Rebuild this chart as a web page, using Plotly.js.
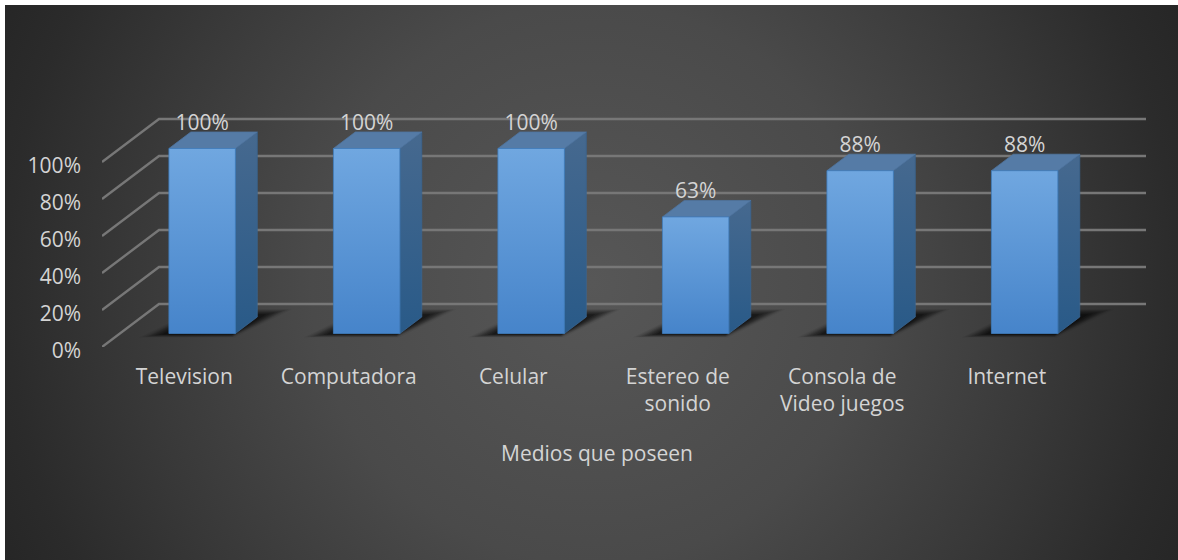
<!DOCTYPE html>
<html>
<head>
<meta charset="utf-8">
<script src="https://cdn.plot.ly/plotly-3.0.1.min.js"></script>
<style>
html,body{margin:0;padding:0;background:#fff;}
#chart{width:1178px;height:560px;
background:radial-gradient(circle 651px at 50% 50%, #575757 0%, #505050 23%, #4a4a4a 43%, #383838 71%, #2b2b2b 90%, #262626 100%) 5px 5px / 1173px 555px no-repeat, #fff;}
</style>
</head>
<body>
<div id="chart"></div>
<script>
// Data
var categories = ["Television", "Computadora", "Celular", "Estereo de<br>sonido", "Consola de<br>Video juegos", "Internet"];
var values = [100, 100, 100, 63, 88, 88];
var yTicks = [0, 20, 40, 60, 80, 100];
var axisTitle = "Medios que poseen";

// Oblique projection of the 3-D chart onto the axes
var DX = 57 / 164.5;        // x-axis units from front to back of floor
var DY = 43 / 1.85;         // y-axis units from front to back of floor
var HALF = 0.202;           // half bar width
var D0 = 0.314, D1 = 0.698; // bar front & back depth
var LABEL_DROP = 1.6;       // data labels sit slightly into the bar top
var FONT = {family:"'Open Sans', sans-serif", size:21, color:"#d4d4d4"};
function px(x, d){ return x + DX * d; }
function py(v, d){ return v + DY * d; }

var traces = [];

// Gridlines (walls)
var gx = [], gy = [];
yTicks.forEach(function(t){
  gx.push(px(-0.5,0), px(-0.5,1), px(5.5,1), null);
  gy.push(py(t,0), py(t,1), py(t,1), null);
});
traces.push({type:"scatter", mode:"lines", x:gx, y:gy, hoverinfo:"skip", showlegend:false,
  line:{color:"#777777", width:2.4}});

// Soft shadows: nested floor polygons
var shadowLayers = [
  {h:0.35,  a:0.22, b:0.88, c:0.12, o:0.05},
  {h:0.335, a:0.23, b:0.87, c:0.12, o:0.07},
  {h:0.32,  a:0.24, b:0.86, c:0.11, o:0.09},
  {h:0.305, a:0.25, b:0.84, c:0.10, o:0.11},
  {h:0.29,  a:0.26, b:0.82, c:0.09, o:0.13},
  {h:0.275, a:0.27, b:0.80, c:0.08, o:0.15},
  {h:0.255, a:0.28, b:0.78, c:0.06, o:0.18},
  {h:0.235, a:0.29, b:0.76, c:0.04, o:0.22}
];
shadowLayers.forEach(function(s){
  var sx = [], sy = [];
  values.forEach(function(v,i){
    sx.push(px(i-s.h,s.a), px(i+s.h-s.c,s.a), px(i+s.h,s.b), px(i-s.h+s.c,s.b), px(i-s.h,s.a), null);
    sy.push(py(0,s.a), py(0,s.a), py(0,s.b), py(0,s.b), py(0,s.a), null);
  });
  traces.push({type:"scatter", mode:"lines", x:sx, y:sy, fill:"toself", hoverinfo:"skip", showlegend:false,
    line:{width:0}, fillcolor:"rgba(0,0,0,"+s.o+")"});
});

// Bars
function face(xs, ys, colorscale, lineColor){
  var t = {type:"scatter", mode:"lines", x:xs, y:ys, fill:"toself", hoverinfo:"skip", showlegend:false,
    line:{width:0.8, color:lineColor}};
  if (colorscale) t.fillgradient = {type:"vertical", colorscale:colorscale};
  return t;
}
var frontScale = [[0,"#4684ca"],[1,"#70a7e0"]];
var sideScale  = [[0,"#295a88"],[1,"#46698f"]];
values.forEach(function(v,i){
  var l = i-HALF, r = i+HALF;
  // right side
  traces.push(face(
    [px(r,D0),px(r,D1),px(r,D1),px(r,D0),px(r,D0)],
    [py(0,D0),py(0,D1),py(v,D1),py(v,D0),py(0,D0)],
    sideScale, "#3a6591"));
  // top
  var top = face(
    [px(l,D0),px(r,D0),px(r,D1),px(l,D1),px(l,D0)],
    [py(v,D0),py(v,D0),py(v,D1),py(v,D1),py(v,D0)],
    null, "#4f75a0");
  top.fillcolor = "#557ba6";
  traces.push(top);
  // front
  traces.push(face(
    [px(l,D0),px(r,D0),px(r,D0),px(l,D0),px(l,D0)],
    [py(0,D0),py(0,D0),py(v,D0),py(v,D0),py(0,D0)],
    frontScale, "#3f7cbd"));
});

// Data labels
traces.push({type:"scatter", mode:"text",
  x:values.map(function(v,i){return px(i,D0);}),
  y:values.map(function(v){return py(v,D1) - LABEL_DROP;}),
  text:values.map(function(v){return v+"%";}),
  textposition:"top center", cliponaxis:false, hoverinfo:"skip", showlegend:false,
  textfont:FONT});

var layout = {
  width:1178, height:560,
  margin:{l:102, r:32, t:100, b:213, pad:0},
  paper_bgcolor:"rgba(0,0,0,0)", plot_bgcolor:"rgba(0,0,0,0)",
  showlegend:false,
  font:FONT,
  xaxis:{range:[-0.5, 5.5+DX], tickmode:"array", tickvals:categories.map(function(c,i){return i;}), ticktext:categories,
    showgrid:false, zeroline:false, showline:false, ticks:"", ticklabelstandoff:15, tickfont:FONT},
  yaxis:{range:[0, 247/1.85], tickmode:"array", tickvals:yTicks, ticktext:yTicks.map(function(t){return t+"%";}),
    showgrid:false, zeroline:false, showline:false, ticks:"", ticklabelstandoff:20, ticklabelshift:4, tickfont:FONT},
  annotations:[{text:axisTitle, xref:"paper", yref:"paper", x:(597-102)/1044, y:(347-453)/247,
    xanchor:"center", yanchor:"middle", showarrow:false, font:FONT}]
};
Plotly.newPlot("chart", traces, layout, {displayModeBar:false, staticPlot:true});
</script>
</body>
</html>
